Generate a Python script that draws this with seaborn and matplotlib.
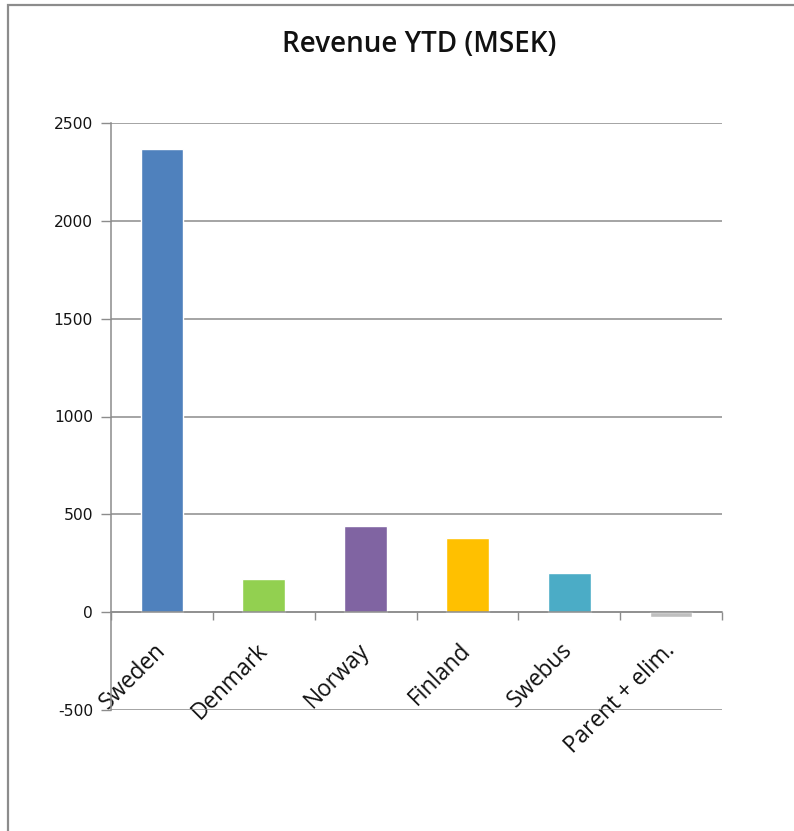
import matplotlib
matplotlib.use("Agg")
import matplotlib.pyplot as plt
from matplotlib.patches import Rectangle
from matplotlib.ticker import FixedLocator
import seaborn as sns
import pandas as pd

# Revenue year-to-date per segment, MSEK
segments = ["Sweden", "Denmark", "Norway", "Finland", "Swebus", "Parent + elim."]
revenue = [2368, 168, 438, 378, 199, -26]
colors = ["#4F81BD", "#92D050", "#8064A2", "#FFC000", "#4BACC6", "#BFBFBF"]
y_ticks = [-500, 0, 500, 1000, 1500, 2000, 2500]

df = pd.DataFrame({"segment": segments, "revenue": revenue})

sns.set_style("white")
plt.rcParams["font.family"] = ["DejaVu Sans"]

fig = plt.figure(figsize=(7.94, 8.31), dpi=100)
ax = fig.add_axes([111 / 794, 1 - 710 / 831, (722 - 111) / 794, (710 - 123) / 831])

sns.barplot(data=df, x="segment", y="revenue", hue="segment",
            palette=colors, width=0.42, legend=False, ax=ax, saturation=1)

grid_col = "#8C8C8C"

# spines first: moving a spine resets its axis' tick styling
for side in ["top", "right"]:
    ax.spines[side].set_visible(False)
ax.spines["bottom"].set_position(("data", 0))
ax.spines["bottom"].set_color(grid_col)
ax.spines["bottom"].set_linewidth(1.1)
ax.spines["left"].set_color(grid_col)
ax.spines["left"].set_linewidth(1.1)

ax.set_ylim(-500, 2500)
ax.set_xlim(-0.5, len(segments) - 0.5)
ax.set_yticks(y_ticks)
ax.set_yticklabels([str(v) for v in y_ticks], fontsize=11.2, color="#141414")
ax.yaxis.grid(True, color=grid_col, linewidth=1.1)
ax.set_axisbelow(True)
ax.tick_params(axis="y", length=7, width=1, color=grid_col, pad=6, left=True)

# category boundaries carry the tick marks, labels sit at category centers
ax.set_xticks(range(len(segments)))
ax.xaxis.set_minor_locator(FixedLocator([i - 0.5 for i in range(len(segments) + 1)]))
ax.tick_params(axis="x", which="minor", length=6, width=1, color=grid_col, bottom=True)
ax.tick_params(axis="x", which="major", length=0, pad=25)
ax.set_xticklabels(segments, fontsize=16.3, family="Open Sans", color="#111111")
for lab in ax.get_xticklabels():
    lab.set_rotation(45)
    lab.set_ha("right")
    lab.set_va("center")
    lab.set_rotation_mode("anchor")

ax.set_xlabel("")
ax.set_ylabel("")

fig.text(419 / 794, 1 - 45 / 831, "Revenue YTD (MSEK)", ha="center", va="center",
         fontsize=20, family="Open Sans", fontweight="semibold", color="#111111")

# chart frame
fig.patches.append(Rectangle((8 / 794, -0.05), 1.0, 1 - 5 / 831 + 0.05,
                             transform=fig.transFigure, fill=False,
                             edgecolor="#8C8C8C", linewidth=1.6))

fig.savefig("out.png", dpi=100)
